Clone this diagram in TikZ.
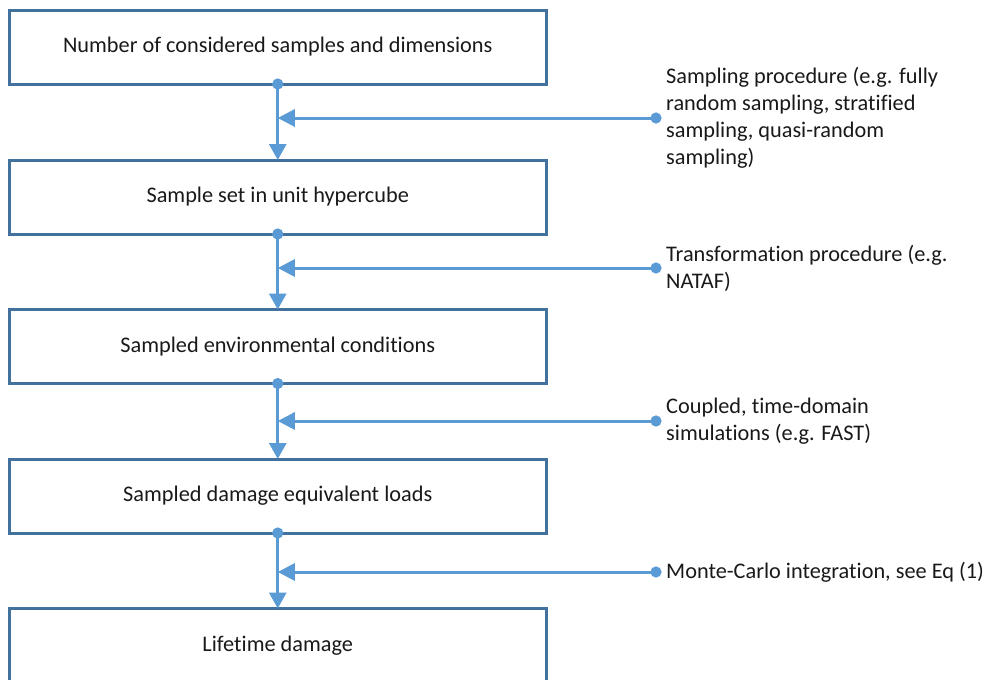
\documentclass[tikz,border=0pt]{standalone}
\usepackage{fontspec}
\setmainfont[Ligatures=NoCommon]{Carlito}
\usetikzlibrary{arrows.meta}
\definecolor{boxblue}{HTML}{41719C}
\definecolor{arrblue}{HTML}{5B9BD5}
\tikzset{
  box/.style={draw=boxblue, line width=3pt, rectangle, minimum width=536.5pt, minimum height=74pt, outer sep=0pt, inner sep=0pt, font=\fontsize{22.3}{27}\selectfont, text=black!90},
  note/.style={anchor=west, inner xsep=10pt, inner ysep=0pt, align=left, font=\fontsize{22.3}{27}\selectfont, text=black!90},
  flow/.style={draw=arrblue, line width=3pt, {Circle[length=11pt]}-{Triangle[length=16pt,width=17pt]}, shorten <=-5.5pt},
  feed/.style={draw=arrblue, line width=3pt, {Circle[length=11pt]}-{Triangle[length=17pt,width=17pt]}, shorten <=-5.5pt}
}
\begin{document}
\begin{tikzpicture}[x=1pt,y=-1pt]
\useasboundingbox (0,0) rectangle (986,680);
\node[box] (b1) at (277.75,47) {Number of considered samples and dimensions};
\node[box] (b2) at (277.75,197) {Sample set in unit hypercube};
\node[box] (b3) at (277.75,346.5) {Sampled environmental conditions};
\node[box] (b4) at (277.75,496) {Sampled damage equivalent loads};
\node[box] (b5) at (277.75,645.5) {Lifetime damage};

\node[note] (t1) at (656,118) {Sampling procedure (e.g. fully\\random sampling, stratified\\sampling, quasi-random\\sampling)};
\node[note] (t2) at (656,268) {Transformation procedure (e.g.\\NATAF)};
\node[note] (t3) at (656,421) {Coupled, time-domain\\simulations (e.g. FAST)};
\node[note] (t4) at (656,572) {Monte-Carlo integration, see Eq (1)};

\draw[flow] (b1.south) -- (b2.north);
\draw[flow] (b2.south) -- (b3.north);
\draw[flow] (b3.south) -- (b4.north);
\draw[flow] (b4.south) -- (b5.north);

\coordinate (j1) at (b1.south |- 0,118);
\coordinate (j2) at (b2.south |- 0,268);
\coordinate (j3) at (b3.south |- 0,421);
\coordinate (j4) at (b4.south |- 0,572);
\draw[feed] (t1.west) -- (j1);
\draw[feed] (t2.west) -- (j2);
\draw[feed] (t3.west) -- (j3);
\draw[feed] (t4.west) -- (j4);
\end{tikzpicture}
\end{document}
